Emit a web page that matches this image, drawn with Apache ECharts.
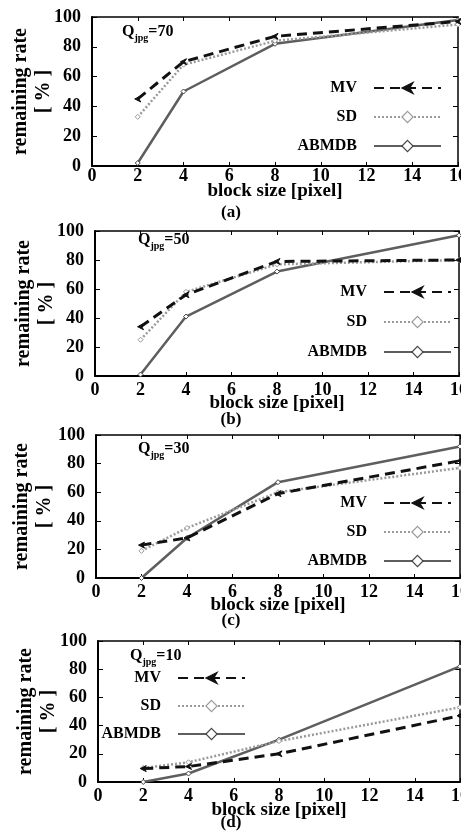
<!DOCTYPE html>
<html><head><meta charset="utf-8">
<script src="https://cdn.jsdelivr.net/npm/echarts@6/dist/echarts.min.js"></script>
<style>html,body{margin:0;padding:0;background:#fff}#c{width:461px;height:836px}</style>
</head><body><div id="c"></div>
<script>
// ---- data ----
const blockSizes = [2, 4, 8, 16];
const xTickLabels = ['0', '2', '4', '6', '8', '10', '12', '14', '16'];
const qualities = [70, 50, 30, 10];
const captions = ['(a)', '(b)', '(c)', '(d)'];
const seriesNames = ['MV', 'SD', 'ABMDB'];

const mvA = [45, 70, 87, 97];
const sdA = [33, 68, 84, 95];
const abA = [2, 50, 82, 98];

const mvB = [34, 56, 79, 80];
const sdB = [25, 58, 77, 80];
const abB = [1, 41, 72, 97];

const mvC = [23, 28, 59, 82];
const sdC = [19, 35, 60, 77];
const abC = [0, 28, 67, 92];

const mvD = [9.5, 11, 20, 47];
const sdD = [10, 14, 29, 53];
const abD = [0, 6, 30, 82];

const panelData = [[mvA, sdA, abA], [mvB, sdB, abB], [mvC, sdC, abC], [mvD, sdD, abD]];

// ---- layout ----
const layout = [
  {left: 92, top: 17, width: 366, height: 149, lgRight: 19, lgTop: 80, lgGap: 13, qx: 122, qy: 33, capY: 213, nameGap: 25, lblMargin: 1, yGap: 60},
  {left: 95, top: 231, width: 364, height: 145, lgRight: 9, lgTop: 284, lgGap: 14, qx: 138, qy: 241, capY: 420, nameGap: 27, lblMargin: 5, yGap: 60},
  {left: 96, top: 435, width: 364, height: 143, lgRight: 9, lgTop: 495, lgGap: 13, qx: 138, qy: 450, capY: 621, nameGap: 27, lblMargin: 5, yGap: 63},
  {left: 98, top: 641, width: 362, height: 141, lgRight: 215, lgTop: 670, lgGap: 12, qx: 130, qy: 657, capY: 823, nameGap: 28, lblMargin: 5, yGap: 61}
];

const FONT = '"Liberation Serif", "DejaVu Serif", serif';
const styles = {
  MV: {color: '#111', width: 3, type: [10, 6], symbol: 'path://M0,5 L10,0 L7,5 L10,10 Z', symbolColor: '#111', fill: '#111', size: 6},
  SD: {color: '#9a9a9a', width: 2.5, type: [2, 2], symbol: 'diamond', symbolColor: '#9a9a9a', fill: '#fff', size: 5},
  ABMDB: {color: '#5e5e5e', width: 2.5, type: 'solid', symbol: 'diamond', symbolColor: '#444', fill: '#fff', size: 5}
};

const grid = [], xAxis = [], yAxis = [], series = [], legend = [], graphic = [];

layout.forEach((L, i) => {
  grid.push({left: L.left, top: L.top, width: L.width, height: L.height, show: false, outerBoundsMode: 'none', containLabel: false});
  xAxis.push({
    type: 'value', gridIndex: i, min: 0, max: 16, interval: 2, position: 'bottom',
    name: 'block size [pixel]', nameLocation: 'middle', nameGap: L.nameGap, nameMoveOverlap: false,
    nameTextStyle: {fontFamily: FONT, fontWeight: 'bold', fontSize: 19, color: '#000', verticalAlign: 'middle'},
    axisLine: {lineStyle: {color: '#000', width: 2}},
    axisTick: {inside: true, length: 4, lineStyle: {color: '#000', width: 1}},
    axisLabel: {fontFamily: FONT, fontWeight: 'bold', fontSize: 18, color: '#000', margin: L.lblMargin,
      formatter: v => xTickLabels[Math.round(v / 2)] ?? ''},
    splitLine: {show: false}
  });
  xAxis.push({
    type: 'value', gridIndex: i, min: 0, max: 16, interval: 2, position: 'top',
    axisLine: {onZero: false, lineStyle: {color: '#000', width: 1.5}},
    axisTick: {inside: true, length: 4, lineStyle: {color: '#000'}},
    axisLabel: {show: false}, splitLine: {show: false}
  });
  yAxis.push({
    type: 'value', gridIndex: i, min: 0, max: 100, interval: 20, position: 'left',
    name: 'remaining rate\n[ % ]', nameLocation: 'middle', nameRotate: 90, nameGap: L.yGap, nameMoveOverlap: false,
    nameTextStyle: {fontFamily: FONT, fontWeight: 'bold', fontSize: 20, color: '#000', lineHeight: 23, verticalAlign: 'middle', align: 'center'},
    axisLine: {lineStyle: {color: '#000', width: 2}},
    axisTick: {inside: true, length: 5, lineStyle: {color: '#000'}},
    axisLabel: {fontFamily: FONT, fontWeight: 'bold', fontSize: 18, color: '#000', margin: 11},
    splitLine: {show: false}
  });
  yAxis.push({
    type: 'value', gridIndex: i, min: 0, max: 100, interval: 20, position: 'right',
    axisLine: {onZero: false, lineStyle: {color: '#000', width: 1.5}},
    axisTick: {inside: true, length: 5, lineStyle: {color: '#000'}},
    axisLabel: {show: false}, splitLine: {show: false}
  });

  seriesNames.forEach((name, k) => {
    const s = styles[name];
    series.push({
      type: 'line', name, xAxisIndex: 2 * i, yAxisIndex: 2 * i,
      data: blockSizes.map((x, j) => [x, panelData[i][k][j]]),
      symbol: s.symbol, symbolSize: s.size, showSymbol: true,
      itemStyle: {color: s.fill, borderColor: s.symbolColor, borderWidth: 1},
      lineStyle: {color: s.color, width: s.width, type: s.type},
      z: 3 - k, animation: false
    });
  });

  legend.push({
    orient: 'vertical', right: L.lgRight, top: L.lgTop, padding: 0, align: 'right',
    itemWidth: 67, itemHeight: 14, itemGap: L.lgGap, selectedMode: false,
    data: seriesNames.map(n => ({name: n, itemStyle: {borderWidth: 1.2}})),
    textStyle: {fontFamily: FONT, fontWeight: 'bold', fontSize: 16, color: '#000', lineHeight: 16, padding: [0, 12, 0, 0]}
  });

  graphic.push({
    type: 'text', left: L.qx, top: L.qy - 9, silent: true,
    style: {
      text: '{q|Q}{s|jpg}{q|=' + qualities[i] + '}',
      rich: {
        q: {fontFamily: FONT, fontWeight: 'bold', fontSize: 16, fill: '#000', verticalAlign: 'bottom'},
        s: {fontFamily: FONT, fontWeight: 'bold', fontSize: 10, fill: '#000', verticalAlign: 'bottom', padding: [0, 0, -3, 0]}
      }
    }
  });
  graphic.push({
    type: 'text', x: 231, y: L.capY, silent: true,
    style: {text: captions[i], fontFamily: FONT, fontWeight: 'bold', fontSize: 17, fill: '#000', align: 'center', verticalAlign: 'middle'}
  });
});

const chart = echarts.init(document.getElementById('c'), null, {renderer: 'canvas'});
chart.setOption({
  backgroundColor: '#fff', animation: false,
  grid, xAxis, yAxis, series, legend, graphic
});
</script>
</body></html>
